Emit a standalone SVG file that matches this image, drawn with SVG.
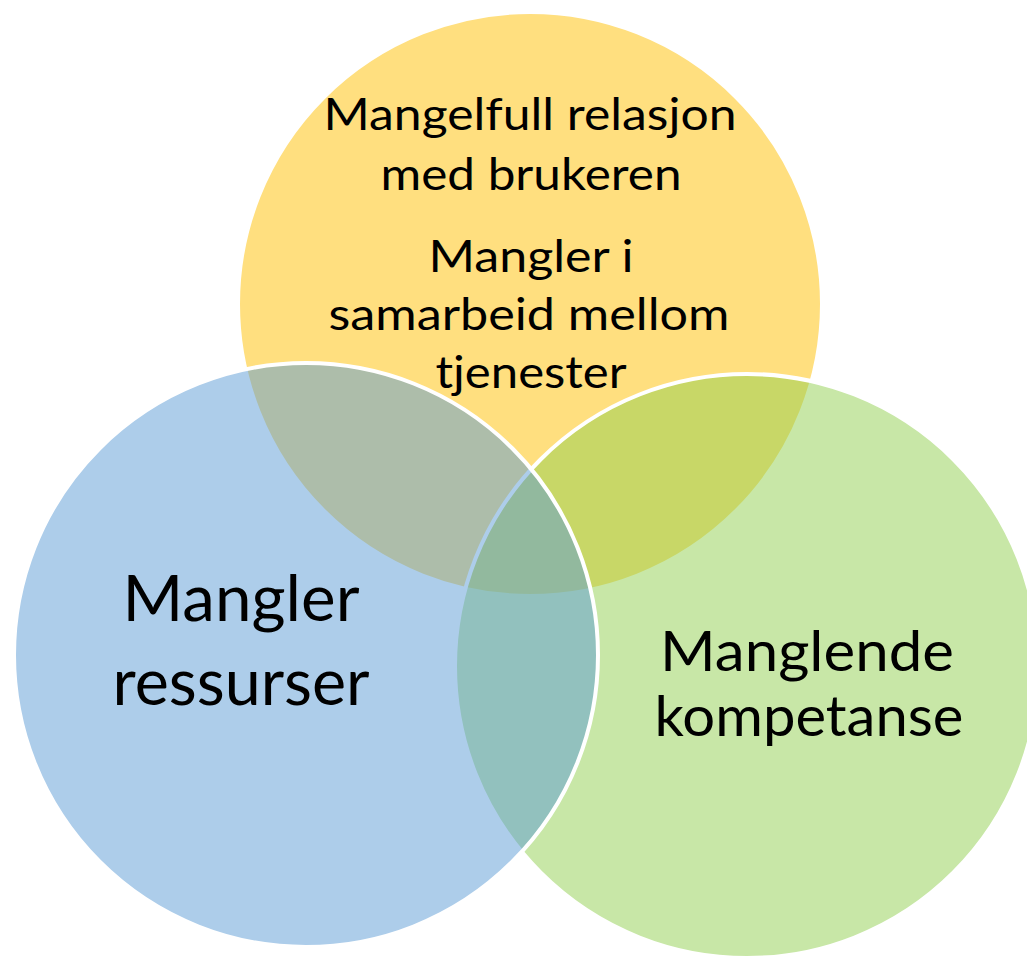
<svg xmlns="http://www.w3.org/2000/svg" width="1027" height="956" viewBox="0 0 1027 956">
<style>
.c{stroke:#ffffff;stroke-width:4;fill-opacity:0.5}
text{font-family:Lato,"Liberation Sans",sans-serif;fill:#000000;text-anchor:middle}
.s{font-size:44px}
.l{font-size:64px}
.m{font-size:56px}
</style>
<rect width="1027" height="956" fill="#ffffff"/>
<g id="node-top">
<circle class="c" cx="530" cy="304" r="292" fill="#FFC000"/>
<text class="s" x="530" y="130" textLength="413" lengthAdjust="spacingAndGlyphs">Mangelfull relasjon</text>
<text class="s" x="531" y="190" textLength="301" lengthAdjust="spacingAndGlyphs">med brukeren</text>
<text class="s" x="531" y="272" textLength="205" lengthAdjust="spacingAndGlyphs">Mangler i</text>
<text class="s" x="529" y="330" textLength="401" lengthAdjust="spacingAndGlyphs">samarbeid mellom</text>
<text class="s" x="531" y="388" textLength="191" lengthAdjust="spacingAndGlyphs">tjenester</text>
</g>
<g id="node-right">
<circle class="c" cx="747" cy="666" r="292" fill="#92D050"/>
<text class="m" x="807" y="671" textLength="294" lengthAdjust="spacingAndGlyphs">Manglende</text>
<text class="m" x="809" y="736" textLength="309" lengthAdjust="spacingAndGlyphs">kompetanse</text>
</g>
<g id="node-left">
<circle class="c" cx="306" cy="655" r="292" fill="#5B9BD5"/>
<text class="l" x="241" y="621" textLength="237" lengthAdjust="spacingAndGlyphs">Mangler</text>
<text class="l" x="241" y="705" textLength="257" lengthAdjust="spacingAndGlyphs">ressurser</text>
</g>
<g id="connectors"></g>
</svg>
